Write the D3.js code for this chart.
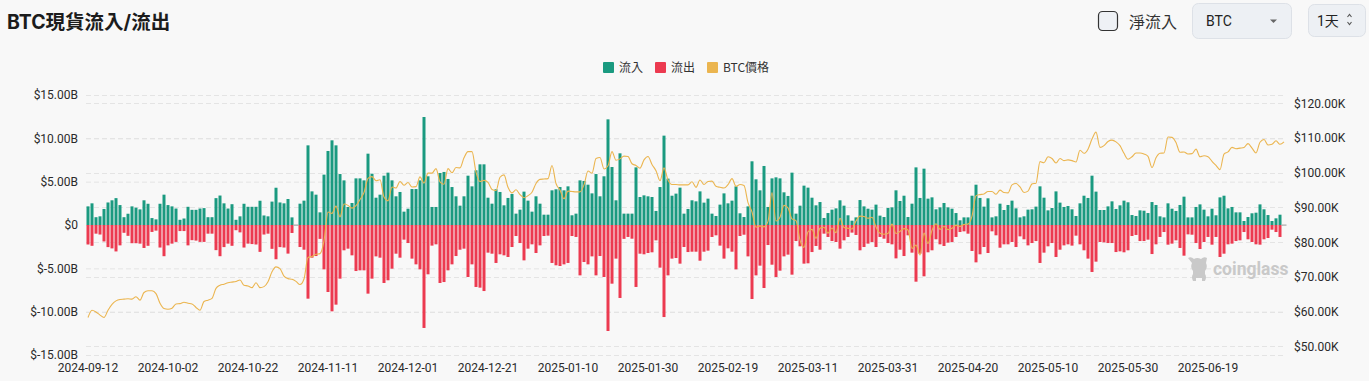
<!DOCTYPE html>
<html>
<head>
<meta charset="utf-8">
<title>BTC現貨流入/流出</title>
<script src="https://d3js.org/d3.v7.min.js"></script>
<style>
  body { margin: 0; background: #f8f8f8; font-family: Roboto, "Noto Sans CJK TC", sans-serif; }
  svg { display: block; }
</style>
</head>
<body>
<script>
// one value per day starting 2024-09-12, flows in $B, price in $K
var startDate = "2024-09-12";

var inflow = [
  2.15, 2.5, 0.9, 1.0, 1.85, 2.6, 2.85, 3.1, 2.3, 0.9, 1.3, 2.15, 2.0, 1.8, 2.85, 2.45, 0.8, 0.65, 2.45, 3.5,
  2.3, 2.15, 1.9, 0.6, 0.75, 2.1, 1.75, 1.75, 1.9, 1.95, 0.9, 0.9, 3.1, 3.4, 2.5, 1.9, 2.4, 0.6, 1.0, 2.45,
  2.1, 2.1, 2.1, 2.8, 1.1, 1.0, 2.7, 4.3, 2.6, 2.5,
  3.0, 0.88, 0, 2.46, 2.81, 9.19, 3.88, 3.5, 1.46, 5.81, 8.54, 9.77, 9.19, 5.88, 5.15, 2.08, 2.54, 5.38, 5.38, 5.15,
  8.23, 5.92, 3.15, 3.5, 5.69, 6.04, 5.15, 3.31, 3.81, 1.54, 1.88, 4.15, 4.15, 5.15, 12.46, 5.62, 2.08, 2.08, 6.0, 6.12,
  5.31, 4.38, 3.31, 2.23, 3.31, 5.69, 4.46, 6.31, 7.0, 7.0,
  3.15, 2.46, 4.12, 3.81, 2.27, 3.12, 3.58, 1.31, 1.77, 3.85, 2.81, 1.54, 3.31, 2.46, 1.19, 1.19, 4.0, 4.12, 4.38, 4.0,
  4.46, 1.12, 1.31, 5.15, 5.08, 4.65, 3.65, 5.88, 3.31, 5.62, 12.19, 6.69, 2.85, 8.27, 1.31, 1.31, 1.31, 6.65, 3.23, 3.42,
  3.31, 3.23, 1.62, 4.38, 10.31, 5.35, 3.38, 3.62, 4.31, 1.31, 1.85,
  2.85, 2.73, 3.88, 2.58, 3.04, 1.31, 1.04, 2.35, 3.65, 2.5, 2.81, 4.46, 1.35, 0.92, 2.15, 7.35, 5.27, 4.0, 6.81, 2.08,
  5.38, 5.5, 5.38, 3.77, 3.35, 6.04, 1.31, 2.23, 4.54, 4.31, 3.15, 2.27, 2.65, 0.81, 1.38, 1.77, 1.92, 2.85, 2.23, 1.12,
  0.5, 0.88, 2.88, 2.15, 1.88, 1.77, 2.35, 1.08, 0.92, 1.96, 2.04,
  4.0, 2.77, 3.38, 0.92, 2.46, 6.65, 3.12, 6.5, 3.04, 3.19, 1.81, 2.04, 2.54, 2.04, 1.88, 1.38, 0.54, 0.88, 0.88, 3.38,
  4.65, 3.12, 2.12, 3.08, 0.88, 1.0, 2.46, 1.73, 2.31, 2.81, 1.92, 0.88, 1.0, 1.77, 1.81, 2.12, 4.46, 3.15, 1.69, 1.96,
  3.88, 2.58, 2.08, 2.19, 1.81, 1.04, 2.5, 3.38, 3.12, 5.69,
  3.85, 1.73, 1.73, 2.15, 2.73, 1.85, 2.27, 2.81, 2.62, 1.15, 1.04, 1.69, 1.65, 1.38, 2.65, 2.31, 1.0, 0.88, 2.5, 1.88,
  1.62, 2.31, 3.27, 0.88, 0.88, 2.08, 2.38, 1.77, 1.0, 1.88, 1.12, 3.19, 3.38, 1.92, 2.08, 1.46, 1.46, 0.46, 0.92, 1.35,
  1.42, 2.38, 1.81, 1.15, 0.46, 0.77, 1.19, 0
];

var outflow = [
  2.25, 2.4, 1.0, 1.1, 1.9, 2.55, 2.7, 3.05, 2.35, 0.9, 1.25, 2.1, 2.1, 2.15, 2.65, 2.4, 0.8, 0.65, 2.6, 3.6,
  2.35, 2.15, 1.95, 0.7, 0.7, 2.35, 1.75, 1.8, 1.95, 1.95, 1.0, 1.0, 2.9, 3.6, 2.55, 2.15, 2.4, 0.6, 0.85, 2.6,
  2.15, 2.2, 2.25, 3.1, 1.1, 1.0, 2.75, 3.95, 2.55, 2.6,
  3.3, 0.92, 0, 2.54, 2.85, 8.5, 3.77, 3.58, 1.6, 5.12, 7.73, 9.96, 9.19, 6.19, 2.92, 2.73, 3.5, 5.31, 5.23, 5.23,
  7.92, 6.19, 3.62, 3.77, 6.69, 6.38, 5.04, 3.31, 3.77, 1.69, 2.08, 3.88, 4.54, 5.12, 11.88, 5.69, 2.38, 2.23, 6.69, 6.58,
  5.23, 4.54, 3.58, 2.85, 2.73, 6.0, 4.54, 7.15, 7.23, 7.62,
  3.19, 3.31, 4.38, 3.38, 3.5, 3.69, 2.54, 1.27, 2.08, 4.08, 2.73, 2.23, 3.23, 2.35, 1.27, 1.23, 4.38, 4.65, 4.73, 4.54,
  4.38, 1.27, 1.38, 5.81, 4.27, 4.54, 3.62, 5.81, 3.58, 6.0, 12.23, 6.77, 3.88, 8.42, 1.6, 1.38, 1.58, 7.15, 3.31, 3.38,
  3.23, 3.15, 1.77, 4.92, 10.62, 5.81, 3.88, 3.81, 4.46, 2.54, 3.12,
  3.08, 3.08, 4.12, 3.08, 2.96, 1.38, 1.19, 2.38, 3.88, 2.69, 3.08, 5.12, 1.27, 1.12, 3.62, 8.54, 5.81, 4.69, 7.27, 2.31,
  4.58, 6.0, 5.27, 3.62, 3.42, 5.73, 1.85, 2.46, 4.46, 4.42, 3.12, 2.42, 2.85, 1.0, 1.38, 1.85, 1.96, 2.73, 1.77, 1.38,
  0.88, 1.15, 2.92, 2.54, 2.15, 1.96, 2.54, 1.38, 1.58, 2.08, 2.23,
  3.85, 2.85, 3.58, 1.19, 3.19, 6.54, 3.31, 5.92, 3.15, 2.92, 1.65, 2.23, 2.42, 2.04, 1.96, 1.38, 0.81, 0.73, 1.0, 3.0,
  4.31, 3.38, 2.54, 3.23, 0.73, 1.19, 2.62, 2.23, 2.23, 1.96, 2.54, 1.31, 1.65, 2.35, 2.08, 1.85, 4.38, 3.19, 2.46, 2.08,
  3.69, 2.85, 2.35, 2.23, 2.38, 1.23, 2.23, 2.92, 3.88, 5.42,
  4.23, 1.96, 2.0, 2.08, 2.08, 3.12, 3.04, 3.15, 2.92, 1.27, 1.15, 1.85, 1.85, 1.69, 3.35, 2.23, 1.38, 0.81, 2.27, 2.15,
  1.77, 2.65, 3.54, 1.08, 1.12, 2.08, 2.77, 1.96, 1.38, 2.27, 1.38, 3.69, 3.31, 2.23, 2.15, 1.85, 1.77, 0.81, 1.65, 1.96,
  2.23, 2.27, 1.65, 1.5, 0.54, 0.81, 1.38, 0
];

var price = [
  58.3, 60.4, 59.9, 59.0, 58.3, 60.4, 62.1, 63.1, 63.5, 63.6, 63.7, 63.6, 64.3, 63.3, 65.5, 66.0, 66.0, 65.2, 62.4,
  60.9, 60.7, 61.0, 62.2, 62.3, 62.7, 62.4, 62.2, 61.2, 60.4, 62.9, 63.3, 63.8, 66.7, 67.6, 67.9, 68.3, 68.5, 68.7, 69.1,
  67.6, 67.4, 66.9, 68.3, 66.9, 67.2, 68.6, 71.5, 72.9, 72.4, 70.2,
  69.5, 69.3, 68.7, 67.8, 69.4, 75.6, 75.9, 76.5, 76.7, 80.4, 88.7, 88.3, 90.4, 87.3, 91.0, 90.6, 89.8, 90.5, 92.3, 94.3,
  98.4, 98.9, 97.7, 98.0, 93.0, 91.9, 95.9, 95.6, 97.5, 96.4,
  97.2, 95.9, 96.0, 98.8, 97.0, 99.9, 99.9, 101.2, 97.4, 96.7, 101.2, 100.0, 101.5, 101.4, 104.3, 106.1, 106.1, 100.2,
  97.5, 97.8, 97.2, 95.2, 94.9, 98.7, 99.4, 95.8, 94.2, 95.1, 93.7, 92.8, 93.4,
  94.4, 96.9, 98.1, 98.2, 98.3, 102.1, 96.9, 95.0, 92.5, 94.7, 94.6, 94.5, 94.5, 96.5, 100.5, 99.9, 104.1, 104.4, 101.1,
  102.0, 106.1, 103.6, 104.0, 104.8, 104.7, 102.6, 102.1, 101.3, 103.7, 104.7, 102.4,
  100.6, 97.7, 101.4, 97.9, 96.6, 96.6, 96.5, 96.5, 96.5, 97.4, 95.8, 97.9, 96.6, 97.5, 97.6, 96.1, 95.8, 95.6, 96.6,
  98.3, 96.1, 96.6, 96.3, 91.4, 88.7, 84.3, 84.7, 84.4,
  86.0, 94.3, 86.1, 87.2, 90.6, 89.9, 86.7, 86.2, 80.6, 78.5, 83.0, 83.7, 81.1, 84.0, 84.3, 82.6, 84.1, 82.7, 86.9,
  84.2, 84.0, 83.8, 86.1, 87.5, 87.4, 86.9, 87.2, 84.4, 82.6, 82.3, 82.5,
  85.2, 82.5, 83.1, 83.9, 83.5, 78.2, 79.2, 76.3, 82.6, 79.6, 83.4, 85.3, 83.7, 84.5, 83.6, 84.0, 84.9, 84.5, 85.1,
  85.2, 87.5, 93.4, 93.7, 93.9, 94.6, 94.6, 93.8, 95.0, 94.3, 94.2,
  96.5, 96.9, 95.9, 94.3, 94.7, 96.8, 97.0, 103.2, 102.9, 104.6, 104.1, 102.8, 104.1, 103.5, 103.7, 103.5, 103.1,
  106.5, 105.6, 106.8, 109.7, 111.7, 107.3, 107.8, 109.0, 109.4, 108.9, 107.8, 105.6, 103.9, 104.6,
  105.7, 105.7, 105.4, 104.7, 101.5, 104.3, 105.6, 105.7, 110.3, 110.2, 108.7, 105.9, 106.0, 105.4, 105.5, 106.8,
  104.6, 104.9, 104.6, 103.3, 102.1, 100.9, 105.4, 106.0, 107.3, 106.9, 107.1, 107.3, 108.4, 107.1,
  105.7, 108.8, 109.6, 108.0, 108.2, 109.2, 108.2, 108.9
];

var tickLabels = ["2024-09-12", "2024-10-02", "2024-10-22", "2024-11-11", "2024-12-01", "2024-12-21", "2025-01-10",
  "2025-01-30", "2025-02-19", "2025-03-11", "2025-03-31", "2025-04-20", "2025-05-10", "2025-05-30", "2025-06-19"];
var leftTicks = [15, 10, 5, 0, -5, -10, -15];
var rightTicks = [120, 110, 100, 90, 80, 70, 60, 50];
var legendNames = ["流入", "流出", "BTC價格"];

var inColor = "#1a9a80", outColor = "#ec3a50", priceColor = "#ebb54f";
var legendColors = [inColor, outColor, priceColor];

var width = 1369, height = 381;
var svg = d3.select("body").append("svg").attr("width", width).attr("height", height);
svg.append("rect").attr("width", width).attr("height", height).attr("fill", "#f8f8f8");

var parse = d3.timeParse("%Y-%m-%d"), fmt = d3.timeFormat("%Y-%m-%d");
var days = inflow.map(function(d, i) { return fmt(d3.timeDay.offset(parse(startDate), i)); });

var x = d3.scaleBand().domain(days).range([86, 1286]).paddingInner(0.25).paddingOuter(0.125);
var yL = d3.scaleLinear().domain([-15, 15]).range([355, 95]);
var yR = d3.scaleLinear().domain([47.5, 122.4]).range([355, 95]);
var bw = x.bandwidth();

// dashed grid, both axes
var grid = svg.append("g").attr("stroke", "#e4e4e4").attr("stroke-dasharray", "5,3");
grid.selectAll(".gl").data(leftTicks).enter().append("line")
  .attr("x1", 86).attr("x2", 1286).attr("y1", function(d) { return yL(d) + 0.5; }).attr("y2", function(d) { return yL(d) + 0.5; });
grid.selectAll(".gr").data(rightTicks).enter().append("line")
  .attr("x1", 86).attr("x2", 1286).attr("y1", function(d) { return Math.round(yR(d)) + 0.5; }).attr("y2", function(d) { return Math.round(yR(d)) + 0.5; });

// bars
var bars = svg.append("g");
bars.selectAll(".in").data(days).enter().append("rect")
  .attr("x", function(d) { return x(d); })
  .attr("y", function(d, i) { return yL(inflow[i]); })
  .attr("width", bw)
  .attr("height", function(d, i) { return yL(0) - yL(inflow[i]); })
  .attr("fill", inColor);
bars.selectAll(".out").data(days).enter().append("rect")
  .attr("x", function(d) { return x(d); })
  .attr("y", yL(0))
  .attr("width", bw)
  .attr("height", function(d, i) { return yL(-outflow[i]) - yL(0); })
  .attr("fill", outColor);
// days without flow data show a small grey mark on the zero line
bars.selectAll(".empty").data(days.filter(function(d, i) { return inflow[i] === 0 && outflow[i] === 0; }))
  .enter().append("rect")
  .attr("x", function(d) { return x(d) - 1; })
  .attr("y", yL(0) - 0.5)
  .attr("width", bw + 2).attr("height", 1.2)
  .attr("fill", "#aaaaaa");

// price line
var line = d3.line()
  .x(function(d, i) { return x(days[i]) + bw / 2; })
  .y(function(d) { return yR(d); })
  .curve(d3.curveMonotoneX);
svg.append("path").datum(price)
  .attr("d", line)
  .attr("fill", "none")
  .attr("stroke", priceColor)
  .attr("stroke-width", 1.1);

// axes
function fmtB(v) { return v === 0 ? "$0" : "$" + v.toFixed(2) + "B"; }
function fmtK(v) { return "$" + v.toFixed(2) + "K"; }

var axL = svg.append("g").attr("transform", "translate(78,0)")
  .call(d3.axisLeft(yL).tickValues(leftTicks).tickSize(0).tickPadding(0).tickFormat(fmtB));
var axR = svg.append("g").attr("transform", "translate(1294,0)")
  .call(d3.axisRight(yR).tickValues(rightTicks).tickSize(0).tickPadding(0).tickFormat(fmtK));
var axB = svg.append("g").attr("transform", "translate(0,355)")
  .call(d3.axisBottom(x).tickValues(tickLabels).tickSize(0).tickPadding(8));
[axL, axR, axB].forEach(function(g) {
  g.select(".domain").remove();
  g.attr("font-family", "Roboto, sans-serif").attr("font-size", 12).attr("color", "#2a2a2a");
});

// legend
var leg = svg.append("g").attr("font-family", "'Noto Sans CJK TC', Roboto, sans-serif").attr("font-size", 12);
var legX = [603, 655, 707];
legendNames.forEach(function(name, i) {
  leg.append("rect").attr("x", legX[i]).attr("y", 62).attr("width", 11).attr("height", 11).attr("rx", 1)
    .attr("fill", legendColors[i]);
  leg.append("text").attr("x", legX[i] + 16).attr("y", 71.5).attr("fill", "#333").text(name);
});

// title
svg.append("text").attr("x", 7).attr("y", 29)
  .attr("font-family", "Inter, 'Noto Sans CJK TC', sans-serif").attr("font-size", 19.5).attr("font-weight", 700)
  .attr("fill", "#1c1c1c").text("BTC現貨流入/流出");

// controls
var ctl = svg.append("g").attr("font-family", "Roboto, 'Noto Sans CJK TC', sans-serif");
ctl.append("rect").attr("x", 1098.5).attr("y", 11.5).attr("width", 19).attr("height", 19).attr("rx", 4)
  .attr("fill", "#eef1f5").attr("stroke", "#333").attr("stroke-width", 1.2);
ctl.append("text").attr("x", 1129).attr("y", 27.5).attr("font-size", 16).attr("fill", "#333")
  .attr("font-family", "'Noto Sans CJK TC', sans-serif").text("淨流入");
ctl.append("rect").attr("x", 1192.5).attr("y", 3.5).attr("width", 99).attr("height", 35).attr("rx", 6)
  .attr("fill", "#edf0f4").attr("stroke", "#dde1e7");
ctl.append("text").attr("x", 1206).attr("y", 26).attr("font-size", 14).attr("fill", "#222").text("BTC");
ctl.append("path").attr("d", "M1270,19.5 L1277,19.5 L1273.5,23 Z").attr("fill", "#666");
ctl.append("rect").attr("x", 1308.5).attr("y", 4.5).attr("width", 57).attr("height", 32).attr("rx", 6)
  .attr("fill", "#edf0f4").attr("stroke", "#dde1e7");
ctl.append("text").attr("x", 1317).attr("y", 26).attr("font-size", 14).attr("fill", "#222")
  .attr("font-family", "Roboto, 'Noto Sans CJK TC', sans-serif").text("1天");
ctl.append("path").attr("d", "M1347.5,17 L1349.5,14.5 L1351.5,17 M1347.5,22 L1349.5,24.5 L1351.5,22")
  .attr("fill", "none").attr("stroke", "#555").attr("stroke-width", 1.1);

// watermark
var wm = svg.append("g").attr("fill", "#c9c9c9");
wm.append("path").attr("d",
  "M1188,258 q3,-2 6,1 q3,-2 7,0 q3,-3 6,-1 l-1,5 q2,4 -1,8 l0,3 q2,3 0,7 l-3,0 l0,-3 l-6,0 l0,3 l-3,0 q-2,-4 0,-7 l0,-3 q-3,-4 -1,-8 z");
wm.append("text").attr("x", 1213).attr("y", 275).attr("font-family", "Roboto, sans-serif")
  .attr("font-size", 17.5).attr("font-weight", 700).text("coinglass");
</script>
</body>
</html>
